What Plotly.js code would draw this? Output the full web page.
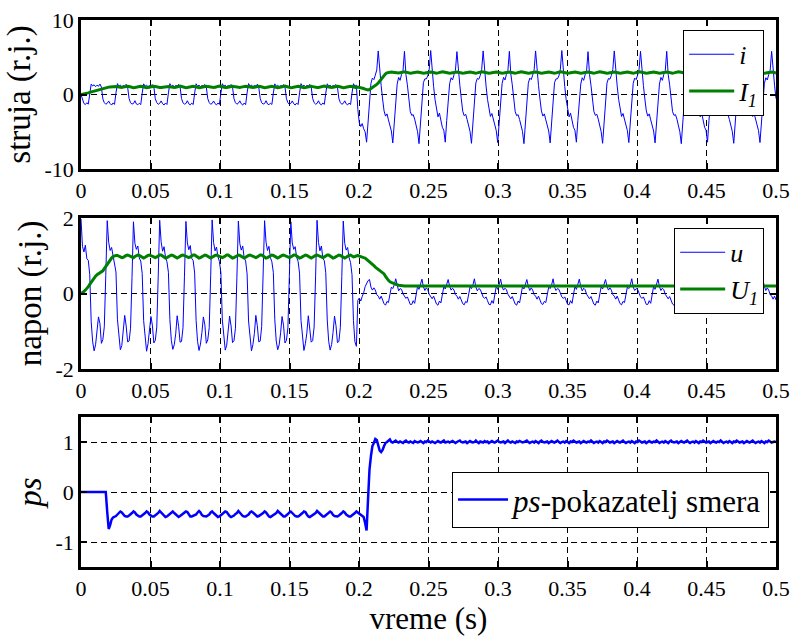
<!DOCTYPE html>
<html>
<head>
<meta charset="utf-8">
<script src="https://cdn.plot.ly/plotly-3.0.1.min.js"></script>
<style>
body{margin:0;padding:0;background:#fff}
#chart{width:792px;height:636px}
</style>
</head>
<body>
<div id="chart"></div>
<script>
// sampling step of the recorded signals (s); samples run from 0 to 0.5 s
const SAMPLE_STEP = 0.5 / 477;

const X_TICKS = [0, 0.05, 0.1, 0.15, 0.2, 0.25, 0.3, 0.35, 0.4, 0.45, 0.5];
const X_TICK_TEXT = ['0', '0.05', '0.1', '0.15', '0.2', '0.25', '0.3', '0.35', '0.4', '0.45', '0.5'];
const TOP_Y_TICKS = [-10, 0, 10];
const TOP_Y_TEXT = ['-10', '0', '10'];
const MID_Y_TICKS = [-2, 0, 2];
const MID_Y_TEXT = ['-2', '0', '2'];
const BOT_Y_TICKS = [-1, 0, 1];
const BOT_Y_TEXT = ['-1', '0', '1'];

// struja i (r.j.)
const current_i = [
0.00,-0.80,-1.20,-1.35,-1.10,-1.30,0.10,1.40,1.15,1.30,1.05,1.25,1.10,1.40,1.00,-0.60,-1.10,-1.30,
-1.18,-0.88,-1.22,-1.42,-1.13,-1.33,0.22,1.47,1.08,1.27,1.03,1.22,1.13,1.37,0.98,-0.53,-1.12,-1.28,
-1.22,-0.83,-1.27,-1.38,-1.17,-1.36,0.18,1.43,1.12,1.23,1.07,1.18,1.17,1.33,1.02,-0.57,-1.08,-1.32,
-1.19,-0.86,-1.24,-1.41,-1.14,-1.34,0.21,1.46,1.09,1.26,1.04,1.21,1.14,1.36,0.99,-0.54,-1.11,-1.29,
-1.21,-0.84,-1.26,-1.39,-1.16,-1.35,0.19,1.44,1.11,1.24,1.06,1.19,1.16,1.34,1.01,-0.56,-1.09,-1.31,
-1.20,-0.87,-1.23,-1.40,-1.15,-1.33,0.20,1.45,1.10,1.25,1.05,1.20,1.15,1.35,1.00,-0.55,-1.10,-1.30,
-1.18,-0.85,-1.25,-1.42,-1.14,-1.36,0.22,1.47,1.09,1.27,1.04,1.22,1.14,1.37,0.98,-0.53,-1.11,-1.28,
-1.22,-0.83,-1.27,-1.38,-1.16,-1.34,0.18,1.43,1.11,1.23,1.06,1.18,1.16,1.33,1.02,-0.57,-1.09,-1.32,
-1.19,-0.86,-1.24,-1.41,-1.15,-1.35,0.21,1.46,1.10,1.26,1.05,1.21,1.15,1.36,0.99,-0.54,-1.10,-1.29,
-1.21,-0.84,-1.26,-1.39,-1.14,-1.33,0.19,1.44,1.12,1.24,1.07,1.19,1.17,1.34,1.01,-0.56,-1.08,-1.31,
-1.20,-0.85,-1.25,-1.40,-1.15,-1.35,0.20,1.45,1.10,1.25,-2.00,-3.80,-4.30,-3.90,-4.60,-5.00,-6.40,-3.50,
-0.60,1.50,2.20,2.00,2.60,3.30,5.85,2.80,1.20,-0.60,-2.20,-2.90,-2.60,-3.40,-4.30,-4.90,-6.50,-3.60,
-0.50,1.40,2.30,1.90,2.70,3.20,5.80,2.70,1.30,-0.50,-2.30,-2.80,-2.70,-3.30,-4.20,-5.00,-6.60,-3.70,
-0.70,1.60,2.10,2.10,2.50,3.40,5.90,2.90,1.10,-0.70,-2.10,-3.00,-2.50,-3.50,-4.40,-4.80,-6.40,-3.50,
-0.55,1.45,2.25,1.95,2.65,3.25,5.75,2.75,1.25,-0.55,-2.25,-2.85,-2.65,-3.35,-4.25,-4.95,-6.55,-3.65,
-0.65,1.55,2.15,2.05,2.55,3.35,5.85,2.85,1.15,-0.65,-2.15,-2.95,-2.55,-3.45,-4.35,-4.85,-6.45,-3.55,
-0.50,1.45,2.30,1.95,2.70,3.25,5.80,2.75,1.30,-0.50,-2.30,-2.85,-2.70,-3.35,-4.20,-4.95,-6.60,-3.65,
-0.60,1.50,2.20,2.00,2.60,3.30,5.85,2.80,1.20,-0.60,-2.20,-2.90,-2.60,-3.40,-4.30,-4.90,-6.50,-3.60,
-0.70,1.60,2.10,2.10,2.50,3.40,5.90,2.90,1.10,-0.70,-2.10,-3.00,-2.50,-3.50,-4.40,-4.80,-6.40,-3.50,
-0.55,1.40,2.25,1.90,2.65,3.20,5.75,2.70,1.25,-0.55,-2.25,-2.80,-2.65,-3.30,-4.25,-5.00,-6.55,-3.70,
-0.65,1.55,2.15,2.05,2.55,3.35,5.85,2.85,1.15,-0.65,-2.15,-2.95,-2.55,-3.45,-4.35,-4.85,-6.45,-3.55,
-0.60,1.50,2.20,2.00,2.60,3.30,5.80,2.80,1.20,-0.60,-2.20,-2.90,-2.60,-3.40,-4.30,-4.90,-6.50,-3.60,
-0.50,1.40,2.30,1.90,2.70,3.20,5.80,2.70,1.30,-0.50,-2.30,-2.80,-2.70,-3.30,-4.20,-5.00,-6.60,-3.70,
-0.70,1.60,2.10,2.10,2.50,3.40,5.90,2.90,1.10,-0.70,-2.10,-3.00,-2.50,-3.50,-4.40,-4.80,-6.40,-3.50,
-0.55,1.45,2.25,1.95,2.65,3.25,5.75,2.75,1.25,-0.55,-2.25,-2.85,-2.65,-3.35,-4.25,-4.95,-6.55,-3.65,
-0.65,1.55,2.15,2.05,2.55,3.35,5.85,2.85,1.15,-0.65,-2.15,-2.95,-2.55,-3.45,-4.35,-4.85,-6.45,-3.55,
-0.55,1.45,2.25,1.95,2.65,3.25,5.80,2.75,1.25,-0.55
];

// osnovni harmonik struje I1 (r.j.)
const current_I1 = [
0.00,0.03,0.07,0.12,0.17,0.22,0.28,0.34,0.40,0.47,0.54,0.60,0.66,0.72,0.77,0.82,0.87,0.91,
0.95,0.99,1.02,1.05,1.08,1.10,1.08,1.03,0.97,0.93,0.94,0.99,1.05,1.10,1.11,1.07,1.01,0.95,
0.92,0.94,0.99,1.05,1.10,1.11,1.07,1.01,0.95,0.92,0.94,0.99,1.05,1.10,1.11,1.07,1.01,0.95,
0.93,0.95,0.98,1.04,1.09,1.11,1.08,1.02,0.96,0.92,0.93,0.98,1.04,1.10,1.12,1.07,1.00,0.94,
0.91,0.94,1.00,1.06,1.11,1.10,1.06,1.00,0.94,0.91,0.94,1.00,1.06,1.09,1.10,1.06,1.01,0.95,
0.92,0.93,0.98,1.05,1.10,1.12,1.08,1.01,0.95,0.93,0.95,0.99,1.05,1.11,1.11,1.07,1.02,0.96,
0.92,0.94,0.99,1.04,1.09,1.10,1.07,1.01,0.95,0.92,0.93,0.98,1.04,1.10,1.11,1.08,1.01,0.95,
0.91,0.94,1.00,1.05,1.10,1.11,1.06,1.00,0.94,0.92,0.94,0.99,1.05,1.10,1.12,1.07,1.01,0.94,
0.92,0.95,0.99,1.06,1.11,1.11,1.07,1.01,0.95,0.91,0.94,0.99,1.06,1.10,1.10,1.06,1.00,0.95,
0.93,0.94,0.98,1.05,1.10,1.12,1.07,1.02,0.96,0.92,0.94,0.98,1.05,1.09,1.11,1.07,1.01,0.95,
0.92,0.94,0.99,1.05,1.10,1.11,1.07,1.01,0.95,0.93,1.00,0.97,0.93,0.88,0.80,0.72,0.66,0.62,
0.66,0.78,0.92,1.06,1.20,1.36,1.55,1.80,2.05,2.35,2.60,2.78,2.90,2.96,3.00,3.03,3.00,2.95,
2.90,2.87,2.88,2.93,2.99,3.03,3.04,3.00,2.94,2.89,2.86,2.88,2.94,3.00,3.04,3.03,2.98,2.92,
2.88,2.86,2.89,2.95,3.01,3.04,3.03,2.98,2.92,2.88,2.87,2.90,2.96,3.02,3.04,3.02,2.97,2.91,
2.87,2.86,2.89,2.95,3.01,3.05,3.03,2.98,2.92,2.88,2.86,2.89,2.95,3.01,3.04,3.03,2.98,2.92,
2.88,2.87,2.90,2.96,3.02,3.04,3.02,2.97,2.91,2.87,2.86,2.89,2.95,3.01,3.05,3.03,2.98,2.92,
2.88,2.86,2.89,2.95,3.01,3.04,3.03,2.98,2.92,2.88,2.87,2.90,2.96,3.02,3.04,3.02,2.97,2.91,
2.87,2.86,2.89,2.95,3.01,3.05,3.03,2.98,2.92,2.88,2.86,2.89,2.95,3.01,3.04,3.03,2.98,2.92,
2.88,2.87,2.90,2.96,3.02,3.04,3.02,2.97,2.91,2.87,2.86,2.89,2.95,3.01,3.05,3.03,2.98,2.92,
2.88,2.86,2.89,2.95,3.01,3.04,3.03,2.98,2.92,2.88,2.87,2.90,2.96,3.02,3.04,3.02,2.97,2.91,
2.87,2.86,2.89,2.95,3.01,3.05,3.03,2.98,2.92,2.88,2.86,2.89,2.95,3.01,3.04,3.03,2.98,2.92,
2.88,2.87,2.90,2.96,3.02,3.04,3.02,2.97,2.91,2.87,2.86,2.89,2.95,3.01,3.05,3.03,2.98,2.92,
2.88,2.86,2.89,2.95,3.01,3.04,3.03,2.98,2.92,2.88,2.87,2.90,2.96,3.02,3.04,3.02,2.97,2.91,
2.87,2.86,2.89,2.95,3.01,3.05,3.03,2.98,2.92,2.88,2.86,2.89,2.95,3.01,3.04,3.03,2.98,2.92,
2.88,2.87,2.90,2.96,3.02,3.04,3.02,2.97,2.91,2.87,2.86,2.89,2.95,3.01,3.05,3.03,2.98,2.92,
2.88,2.86,2.89,2.95,3.01,3.04,3.03,2.98,2.92,2.88,2.87,2.90,2.96,3.02,3.04,3.02,2.97,2.91,
2.87,2.86,2.89,2.95,3.01,3.05,3.03,2.98,2.92,2.88
];

// napon u (r.j.)
const voltage_u = [
1.98,1.25,1.10,1.28,0.92,0.88,0.50,-0.75,-1.28,-1.52,-1.36,-1.02,-0.62,-0.80,-1.32,-1.22,-0.88,0.48,
1.93,1.36,1.14,1.22,0.97,0.83,0.57,-0.68,-1.22,-1.49,-1.38,-1.06,-0.58,-0.86,-1.28,-1.26,-0.92,0.42,
1.90,1.33,1.17,1.26,0.94,0.86,0.53,-0.72,-1.26,-1.53,-1.33,-1.04,-0.61,-0.84,-1.31,-1.24,-0.89,0.46,
1.94,1.37,1.12,1.24,0.96,0.84,0.56,-0.69,-1.24,-1.48,-1.36,-1.07,-0.59,-0.87,-1.29,-1.27,-0.91,0.44,
1.91,1.34,1.16,1.27,0.93,0.87,0.54,-0.71,-1.27,-1.51,-1.34,-1.03,-0.62,-0.83,-1.32,-1.23,-0.90,0.47,
1.95,1.35,1.13,1.23,0.97,0.85,0.55,-0.70,-1.23,-1.50,-1.37,-1.05,-0.60,-0.86,-1.30,-1.25,-0.92,0.43,
1.92,1.32,1.15,1.26,0.94,0.86,0.52,-0.73,-1.25,-1.52,-1.35,-1.06,-0.58,-0.85,-1.28,-1.26,-0.88,0.45,
1.93,1.36,1.14,1.25,0.95,0.84,0.56,-0.68,-1.26,-1.49,-1.36,-1.04,-0.61,-0.84,-1.31,-1.24,-0.91,0.46,
1.90,1.34,1.17,1.24,0.96,0.85,0.54,-0.71,-1.24,-1.51,-1.33,-1.05,-0.59,-0.87,-1.29,-1.25,-0.89,0.44,
1.94,1.35,1.13,1.26,0.93,0.87,0.55,-0.70,-1.27,-1.50,-1.35,-1.03,-0.60,-0.85,-1.30,-1.27,-0.90,0.45,
1.92,1.33,1.15,1.22,0.95,0.82,0.50,-0.72,-1.28,-1.40,-0.18,-0.12,-0.20,-0.08,0.02,0.18,0.28,0.34,
0.37,0.17,0.09,0.15,0.09,-0.03,-0.07,-0.15,-0.07,-0.17,-0.27,-0.31,-0.21,-0.24,0.03,0.17,0.13,0.23,
0.39,0.19,0.07,0.13,0.11,-0.01,-0.09,-0.13,-0.09,-0.19,-0.29,-0.29,-0.19,-0.26,0.01,0.19,0.11,0.25,
0.38,0.18,0.08,0.15,0.10,-0.02,-0.08,-0.14,-0.07,-0.18,-0.28,-0.31,-0.20,-0.25,0.02,0.18,0.12,0.24,
0.37,0.19,0.09,0.14,0.09,-0.03,-0.07,-0.15,-0.08,-0.17,-0.27,-0.30,-0.21,-0.24,0.03,0.17,0.13,0.23,
0.39,0.17,0.07,0.13,0.11,-0.01,-0.09,-0.13,-0.09,-0.19,-0.29,-0.30,-0.19,-0.26,0.01,0.19,0.11,0.25,
0.38,0.18,0.09,0.14,0.10,-0.02,-0.08,-0.14,-0.08,-0.18,-0.28,-0.31,-0.20,-0.25,0.02,0.18,0.12,0.24,
0.37,0.19,0.08,0.15,0.09,-0.03,-0.07,-0.15,-0.07,-0.17,-0.27,-0.29,-0.21,-0.24,0.03,0.17,0.13,0.23,
0.39,0.17,0.08,0.13,0.11,-0.01,-0.09,-0.13,-0.09,-0.19,-0.29,-0.30,-0.19,-0.26,0.01,0.19,0.11,0.25,
0.38,0.18,0.07,0.14,0.10,-0.02,-0.08,-0.14,-0.08,-0.18,-0.28,-0.31,-0.20,-0.25,0.02,0.18,0.12,0.24,
0.37,0.19,0.09,0.15,0.09,-0.03,-0.07,-0.15,-0.07,-0.17,-0.27,-0.30,-0.21,-0.24,0.03,0.17,0.13,0.23,
0.39,0.17,0.08,0.13,0.11,-0.01,-0.09,-0.13,-0.09,-0.19,-0.29,-0.29,-0.19,-0.26,0.01,0.19,0.11,0.25,
0.38,0.18,0.08,0.14,0.10,-0.02,-0.08,-0.14,-0.08,-0.18,-0.28,-0.31,-0.20,-0.25,0.02,0.18,0.12,0.24,
0.37,0.19,0.07,0.15,0.09,-0.03,-0.07,-0.15,-0.07,-0.17,-0.27,-0.30,-0.21,-0.24,0.03,0.17,0.13,0.23,
0.39,0.17,0.09,0.13,0.11,-0.01,-0.09,-0.13,-0.09,-0.19,-0.29,-0.30,-0.19,-0.26,0.01,0.19,0.11,0.25,
0.38,0.18,0.08,0.14,0.10,-0.02,-0.08,-0.14,-0.08,-0.18,-0.28,-0.31,-0.20,-0.25,0.02,0.18,0.12,0.24,
0.37,0.19,0.08,0.15,0.09,-0.03,-0.07,-0.15,-0.07,-0.17
];

// osnovni harmonik napona U1 (r.j.)
const voltage_U1 = [
0.00,0.02,0.05,0.09,0.13,0.18,0.24,0.30,0.36,0.41,0.46,0.50,0.52,0.54,0.56,0.60,0.66,0.72,
0.78,0.84,0.89,0.94,0.98,1.00,1.01,1.01,0.99,0.96,0.95,0.96,0.99,1.01,1.02,1.00,0.97,0.95,
0.95,0.98,1.01,1.02,1.01,0.98,0.95,0.94,0.96,0.99,1.01,1.02,1.00,0.97,0.95,0.95,0.97,1.00,
1.02,1.02,0.99,0.96,0.94,0.95,0.98,1.01,1.02,1.01,0.98,0.95,0.94,0.96,0.99,1.01,1.02,1.00,
0.97,0.95,0.95,0.97,1.00,1.02,1.02,0.99,0.96,0.94,0.95,0.98,1.01,1.02,1.01,0.98,0.95,0.94,
0.96,0.99,1.01,1.02,1.00,0.97,0.95,0.95,0.97,1.00,1.02,1.02,0.99,0.96,0.94,0.95,0.98,1.01,
1.02,1.01,0.98,0.95,0.94,0.96,0.99,1.01,1.02,1.00,0.97,0.95,0.95,0.97,1.00,1.02,1.02,0.99,
0.96,0.94,0.95,0.98,1.01,1.02,1.01,0.98,0.95,0.94,0.96,0.99,1.01,1.02,1.00,0.97,0.95,0.95,
0.97,1.00,1.02,1.02,0.99,0.96,0.94,0.95,0.98,1.01,1.02,1.01,0.98,0.95,0.94,0.96,0.99,1.01,
1.02,1.00,0.97,0.95,0.95,0.97,1.00,1.02,1.02,0.99,0.96,0.94,0.95,0.98,1.01,1.02,1.01,0.98,
0.95,0.94,0.96,0.99,1.01,1.02,1.00,0.97,0.98,1.00,1.01,0.99,0.97,0.96,0.95,0.94,0.91,0.88,
0.84,0.80,0.78,0.74,0.70,0.67,0.65,0.62,0.60,0.57,0.52,0.45,0.39,0.35,0.31,0.29,0.27,0.25,
0.24,0.23,0.22,0.21,0.20,0.20,0.20,0.20,0.20,0.20,0.20,0.20,0.20,0.20,0.20,0.20,0.20,0.20,
0.20,0.20,0.20,0.20,0.20,0.20,0.20,0.20,0.20,0.20,0.20,0.20,0.20,0.20,0.20,0.20,0.20,0.20,
0.20,0.20,0.20,0.20,0.20,0.20,0.20,0.20,0.20,0.20,0.20,0.20,0.20,0.20,0.20,0.20,0.20,0.20,
0.20,0.20,0.20,0.20,0.20,0.20,0.20,0.20,0.20,0.20,0.20,0.20,0.20,0.20,0.20,0.20,0.20,0.20,
0.20,0.20,0.20,0.20,0.20,0.20,0.20,0.20,0.20,0.20,0.20,0.20,0.20,0.20,0.20,0.20,0.20,0.20,
0.20,0.20,0.20,0.20,0.20,0.20,0.20,0.20,0.20,0.20,0.20,0.20,0.20,0.20,0.20,0.20,0.20,0.20,
0.20,0.20,0.20,0.20,0.20,0.20,0.20,0.20,0.20,0.20,0.20,0.20,0.20,0.20,0.20,0.20,0.20,0.20,
0.20,0.20,0.20,0.20,0.20,0.20,0.20,0.20,0.20,0.20,0.20,0.20,0.20,0.20,0.20,0.20,0.20,0.20,
0.20,0.20,0.20,0.20,0.20,0.20,0.20,0.20,0.20,0.20,0.20,0.20,0.20,0.20,0.20,0.20,0.20,0.20,
0.20,0.20,0.20,0.20,0.20,0.20,0.20,0.20,0.20,0.20,0.20,0.20,0.20,0.20,0.20,0.20,0.20,0.20,
0.20,0.20,0.20,0.20,0.20,0.20,0.20,0.20,0.20,0.20,0.20,0.20,0.20,0.20,0.20,0.20,0.20,0.20,
0.20,0.20,0.20,0.20,0.20,0.20,0.20,0.20,0.20,0.20,0.20,0.20,0.20,0.20,0.20,0.20,0.20,0.20,
0.20,0.20,0.20,0.20,0.20,0.20,0.20,0.20,0.20,0.20,0.20,0.20,0.20,0.20,0.20,0.20,0.20,0.20,
0.20,0.20,0.20,0.20,0.20,0.20,0.20,0.20,0.20,0.20,0.20,0.20,0.20,0.20,0.20,0.20,0.20,0.20,
0.20,0.20,0.20,0.20,0.20,0.20,0.20,0.20,0.20,0.20
];

// ps - pokazatelj smera
const direction_ps = [
0.00,0.00,0.00,0.00,0.00,0.00,0.00,0.00,0.00,0.00,0.00,0.00,0.00,0.00,0.00,0.00,0.00,0.00,
-0.40,-0.74,-0.66,-0.55,-0.51,-0.50,-0.48,-0.45,-0.42,-0.39,-0.41,-0.45,-0.48,-0.49,-0.49,-0.47,-0.45,-0.42,
-0.39,-0.41,-0.45,-0.48,-0.49,-0.49,-0.47,-0.45,-0.42,-0.39,-0.41,-0.45,-0.48,-0.49,-0.49,-0.47,-0.45,-0.42,
-0.38,-0.41,-0.46,-0.48,-0.50,-0.49,-0.46,-0.44,-0.41,-0.39,-0.42,-0.45,-0.49,-0.50,-0.48,-0.46,-0.44,-0.42,
-0.39,-0.40,-0.45,-0.49,-0.49,-0.48,-0.47,-0.45,-0.41,-0.38,-0.41,-0.46,-0.48,-0.49,-0.49,-0.47,-0.45,-0.41,
-0.39,-0.42,-0.45,-0.48,-0.50,-0.49,-0.46,-0.44,-0.42,-0.39,-0.40,-0.45,-0.48,-0.50,-0.49,-0.47,-0.44,-0.42,
-0.38,-0.41,-0.46,-0.48,-0.49,-0.49,-0.47,-0.45,-0.41,-0.39,-0.41,-0.44,-0.48,-0.49,-0.48,-0.46,-0.45,-0.42,
-0.39,-0.41,-0.45,-0.49,-0.50,-0.48,-0.46,-0.44,-0.42,-0.38,-0.41,-0.45,-0.48,-0.49,-0.49,-0.47,-0.44,-0.41,
-0.39,-0.42,-0.46,-0.48,-0.49,-0.49,-0.47,-0.45,-0.42,-0.39,-0.40,-0.45,-0.49,-0.50,-0.48,-0.46,-0.45,-0.42,
-0.38,-0.41,-0.45,-0.48,-0.49,-0.49,-0.46,-0.44,-0.41,-0.39,-0.41,-0.46,-0.48,-0.49,-0.49,-0.47,-0.45,-0.42,
-0.39,-0.41,-0.45,-0.48,-0.49,-0.49,-0.47,-0.45,-0.42,-0.39,-0.41,-0.44,-0.46,-0.47,-0.50,-0.62,-0.77,-0.15,
0.45,0.72,0.92,0.98,1.06,1.04,0.93,0.83,0.80,0.84,0.92,0.98,1.00,1.03,1.05,1.00,0.99,1.01,
1.03,1.00,0.99,1.01,1.00,0.98,1.01,1.03,1.00,0.99,1.01,1.00,0.98,1.02,1.01,0.99,1.00,1.02,
1.00,0.98,1.01,1.00,1.03,1.00,0.99,1.01,1.00,0.98,1.00,1.02,1.00,0.99,1.01,1.03,0.99,1.00,
1.01,0.99,1.00,1.02,1.00,0.98,1.00,1.01,1.03,1.00,0.99,1.00,1.01,0.98,1.00,1.02,1.00,0.99,
1.00,1.03,1.00,0.98,1.01,1.00,0.99,1.02,1.00,1.01,0.98,1.00,1.02,1.00,0.99,1.01,1.03,1.00,
0.99,1.00,1.01,0.98,1.00,1.03,1.00,0.99,1.01,1.00,0.98,1.01,1.00,1.02,1.00,0.99,1.00,1.01,
1.03,1.00,0.98,1.00,1.01,0.99,1.02,1.00,0.98,1.01,1.03,1.00,0.99,1.00,1.01,0.98,1.00,1.02,
1.00,0.99,1.01,1.03,1.00,0.98,1.00,1.01,0.99,1.02,1.00,0.98,1.01,1.00,1.03,1.00,0.99,1.00,
1.01,0.98,1.00,1.02,1.00,0.99,1.01,1.00,1.03,1.00,0.98,1.00,1.01,0.99,1.02,1.00,0.98,1.01,
1.00,1.03,1.00,0.99,1.00,1.01,0.98,1.00,1.02,1.00,0.99,1.01,1.03,1.00,0.98,1.00,1.01,0.99,
1.02,1.00,0.98,1.01,1.00,1.03,1.00,0.99,1.00,1.01,0.98,1.00,1.02,1.00,0.99,1.01,1.00,1.03,
1.00,0.98,1.00,1.01,0.99,1.02,1.00,0.98,1.01,1.03,1.00,0.99,1.00,1.01,0.98,1.00,1.02,1.00,
0.99,1.01,1.03,1.00,0.98,1.00,1.01,0.99,1.02,1.00,0.98,1.01,1.00,1.03,1.00,0.99,1.00,1.01,
0.98,1.00,1.02,1.00,0.99,1.01,1.00,1.03,1.00,0.98,1.00,1.01,0.99,1.02,1.00,0.98,1.01,1.00,
1.03,1.00,0.99,1.00,1.01,0.98,1.00,1.02,1.00,0.99,1.01,1.03,1.00,0.98,1.00,1.01,0.99,1.02,
1.00,0.98,1.01,1.00,1.03,1.00,0.99,1.00,1.01,1.00
];

const timeOf = arr => arr.map((_, k) => k * SAMPLE_STEP);

const FONT = 'Liberation Serif, Times New Roman, serif';
const BLUE = '#0000ff';
const GREEN = '#008000';

const axisBase = {
  showline: true, linecolor: '#000', linewidth: 2.5, mirror: 'ticks',
  ticks: 'inside', ticklen: 6, tickwidth: 2, tickcolor: '#000',
  showgrid: true, gridcolor: '#000', gridwidth: 1, griddash: '6px,4px',
  zeroline: false, tickmode: 'array', automargin: false, fixedrange: true,
  tickfont: { family: FONT, size: 22, color: '#000' }
};
const xAxis = (anchor, extra) => Object.assign({}, axisBase, {
  anchor: anchor, range: [0, 0.5], tickvals: X_TICKS, ticktext: X_TICK_TEXT
}, extra || {});
const yAxis = (anchor, range, vals, text, domain, title) => Object.assign({}, axisBase, {
  anchor: anchor, range: range, tickvals: vals, ticktext: text, domain: domain,
  title: { text: title, font: { family: FONT, size: 33, color: '#000' }, standoff: 4 }
});

const traces = [
  { x: timeOf(current_i), y: current_i, xaxis: 'x', yaxis: 'y', type: 'scatter', mode: 'lines',
    name: '<i>i</i>', line: { color: BLUE, width: 1 }, legend: 'legend' },
  { x: timeOf(current_I1), y: current_I1, xaxis: 'x', yaxis: 'y', type: 'scatter', mode: 'lines',
    name: '<i>I<sub>1</sub></i>', line: { color: GREEN, width: 3 }, legend: 'legend' },
  { x: timeOf(voltage_u), y: voltage_u, xaxis: 'x2', yaxis: 'y2', type: 'scatter', mode: 'lines',
    name: '<i>u</i>', line: { color: BLUE, width: 1 }, legend: 'legend2' },
  { x: timeOf(voltage_U1), y: voltage_U1, xaxis: 'x2', yaxis: 'y2', type: 'scatter', mode: 'lines',
    name: '<i>U<sub>1</sub></i>', line: { color: GREEN, width: 3 }, legend: 'legend2' },
  { x: timeOf(direction_ps), y: direction_ps, xaxis: 'x3', yaxis: 'y3', type: 'scatter', mode: 'lines',
    name: '<i>ps</i>-pokazatelj smera', line: { color: BLUE, width: 2.5 }, legend: 'legend3' }
];

const legendBase = {
  xanchor: 'right', yanchor: 'top', bgcolor: '#fff', bordercolor: '#000', borderwidth: 1,
  tracegroupgap: 0, itemwidth: 45
};

const layout = {
  width: 792, height: 636,
  margin: { l: 81, r: 16, t: 20, b: 69 },
  paper_bgcolor: '#fff', plot_bgcolor: '#fff',
  font: { family: FONT, color: '#000' },
  xaxis: xAxis('y'),
  xaxis2: xAxis('y2'),
  xaxis3: xAxis('y3', { title: { text: 'vreme (s)', font: { family: FONT, size: 31, color: '#000' }, standoff: 5 } }),
  yaxis: yAxis('x', [-10, 10], TOP_Y_TICKS, TOP_Y_TEXT, [0.7276, 1], 'struja (r.j.)'),
  yaxis2: yAxis('x2', [-2, 2], MID_Y_TICKS, MID_Y_TEXT, [0.362, 0.638], 'napon (r.j.)'),
  yaxis3: yAxis('x3', [-1.5, 1.5], BOT_Y_TICKS, BOT_Y_TEXT, [0, 0.2742], '<i>ps</i>'),
  legend: Object.assign({}, legendBase, { x: 0.983, y: 0.982, font: { family: FONT, size: 26, color: '#000' } }),
  legend2: Object.assign({}, legendBase, { x: 0.983, y: 0.62, font: { family: FONT, size: 26, color: '#000' } }),
  legend3: Object.assign({}, legendBase, { x: 0.99, y: 0.174, itemwidth: 50, font: { family: FONT, size: 31, color: '#000' } }),
  showlegend: true
};

Plotly.newPlot('chart', traces, layout, { displayModeBar: false });
</script>
</body>
</html>
